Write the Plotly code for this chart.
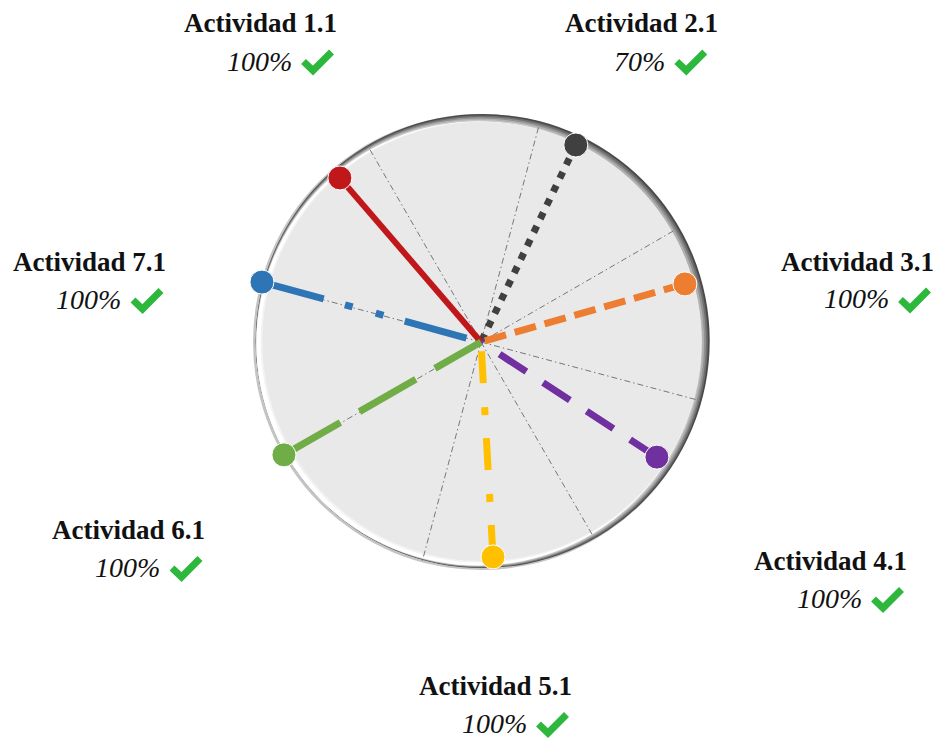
import math
import plotly.graph_objects as go

# ---------------- data ----------------
names = ["Actividad 1.1", "Actividad 2.1", "Actividad 3.1", "Actividad 4.1",
         "Actividad 5.1", "Actividad 6.1", "Actividad 7.1"]
percents = [100, 70, 100, 100, 100, 100, 100]
angles = [319.3, 25.7, 74.1, 123.2, 176.8, 240.2, 285.3]      # degrees, clockwise from north
radii = [94.9, 95.9, 93.0, 92.2, 94.4, 99.6, 99.6]            # % of outer radius
grid_angles = [15, 60, 105, 150, 195, 240, 285, 330]

# ---------------- styles ----------------
colors = ["#c0171a", "#404040", "#ed7d31", "#7030a0", "#ffc000", "#70ad47", "#2e75b6"]
dashes = ["solid", "7px,8px", "22px,9px", "32px,20px", "32px,23px,8px,24px",
          "65px,22px", "64px,22px,8px,24px,8px,22px"]
widths = [6, 7, 7, 7, 7, 7, 7]
draw_order = [1, 6, 0, 2, 3, 4, 5]
check_color = "#2db83d"

OFF = 8                      # page body margin
W, H = 943 - 2 * OFF, 748 - 2 * OFF
CX, CY = 481, 342            # page pixels
GRID_R = 228

# label layout (page pixels): centre of the name line
label_cx = [260, 641.5, 857, 830, 495, 128.5, 89.5]
label_cy = [23.5, 23.5, 261.5, 561, 686, 530, 262]
LINE_GAP = 37.5
CHECK_W = 31


def px(x):
    return (x - OFF) / W


def py(y):
    return 1 - (y - OFF) / H


fig = go.Figure()

for i in draw_order:
    fig.add_trace(go.Scatterpolar(
        r=[radii[i], 0], theta=[angles[i], angles[i]],
        mode="lines+markers",
        line=dict(color=colors[i], width=widths[i], dash=dashes[i]),
        marker=dict(size=[24, 0], color=colors[i], opacity=1),
        cliponaxis=False, showlegend=False, hoverinfo="skip"))

# bevelled disc behind the polar area (light from the west-south-west)
ux, uy = math.sin(math.radians(60)), -math.cos(math.radians(60))   # toward the shaded side
rings = [(228, 0, "#c4c4c4")]
grad = ["#4a4a4a", "#6e6e6e", "#909090", "#b0b0b0", "#cbcbcb", "#dedede"]
for k, col in enumerate(grad):
    rings.append((227 - k, 2 - k, col))
rings += [(222, -3, "#ffffff"), (220.5, 0, "#f3f3f3"), (219.5, 1, "#e9e9e9")]

shapes = []
for R, o, col in rings:
    cx, cy = CX + o * ux, CY + o * uy
    shapes.append(dict(type="circle", xref="paper", yref="paper", layer="below",
                       x0=px(cx - R), x1=px(cx + R), y0=py(cy + R), y1=py(cy - R),
                       fillcolor=col, line=dict(width=0)))

annotations = []
for i in range(len(names)):
    annotations.append(dict(
        x=px(label_cx[i]), y=py(label_cy[i]), xref="paper", yref="paper",
        xanchor="center", yanchor="middle", showarrow=False,
        text="<b>%s</b>" % names[i],
        font=dict(family="Liberation Serif", size=27, color="#111111")))
    pct_text = "%d%%" % percents[i]
    w_pct = 16.5 * len(pct_text)
    line_w = w_pct + 8 + CHECK_W
    pct_right = label_cx[i] + 20 - line_w / 2 + w_pct
    yc = label_cy[i] + LINE_GAP
    annotations.append(dict(
        x=px(pct_right), y=py(yc), xref="paper", yref="paper",
        xanchor="right", yanchor="middle", showarrow=False,
        text="<i>%s</i>" % pct_text,
        font=dict(family="Liberation Serif", size=28, color="#111111")))
    # check mark icon
    xl = pct_right + 8
    pts = [(xl + 2, yc + 0.5), (xl + 11.5, yc + 9.5), (xl + 30, yc - 9)]
    path = "M %f,%f L %f,%f L %f,%f" % tuple(v for p in pts for v in (px(p[0]), py(p[1])))
    shapes.append(dict(type="path", xref="paper", yref="paper", layer="above",
                       path=path, line=dict(color=check_color, width=7)))

fig.update_layout(
    width=W, height=H,
    margin=dict(l=0, r=0, t=0, b=0),
    paper_bgcolor="white",
    showlegend=False,
    shapes=shapes,
    annotations=annotations,
    polar=dict(
        domain=dict(x=[px(CX - GRID_R), px(CX + GRID_R)], y=[py(CY + GRID_R), py(CY - GRID_R)]),
        bgcolor="rgba(0,0,0,0)",
        radialaxis=dict(range=[0, 100], visible=False, showgrid=False),
        angularaxis=dict(rotation=90, direction="clockwise", tickvals=grid_angles,
                         showticklabels=False, ticks="", showline=False,
                         gridcolor="#777777", gridwidth=1, griddash="6px,3px,1.5px,3px"),
    ),
)

fig.write_html("out.html")
